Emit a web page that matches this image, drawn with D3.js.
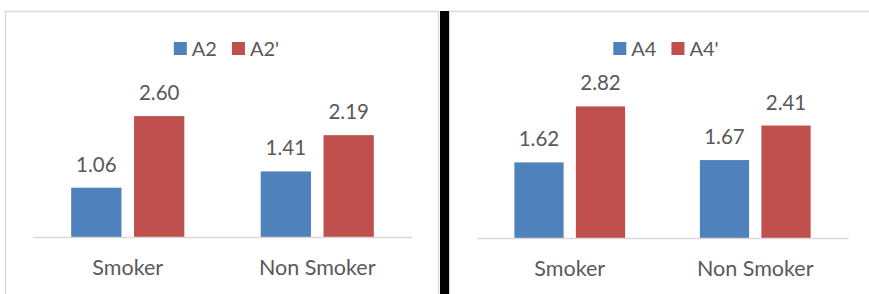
<!DOCTYPE html>
<html>
<head>
<meta charset="utf-8">
<script src="https://cdn.jsdelivr.net/npm/d3@7"></script>
<style>
  body { margin: 0; background: #fff; }
  text { font-family: Lato, "Open Sans", sans-serif; fill: #595959; }
</style>
</head>
<body>
<script>
// Data
const categories = ['Smoker', 'Non Smoker'];
const leftSeries = ['A2', "A2'"];
const leftValues = [[1.06, 2.60], [1.41, 2.19]];
const rightSeries = ['A4', "A4'"];
const rightValues = [[1.62, 2.82], [1.67, 2.41]];

const colors = ['#4F81BD', '#C0504D'];

const W = 869, H = 294;

const svg = d3.select('body').append('svg')
    .attr('width', W)
    .attr('height', H);

// Panel frames
svg.append('rect')
    .attr('x', 5.5).attr('y', 11.5)
    .attr('width', 433).attr('height', 300)
    .attr('fill', 'none')
    .attr('stroke', '#D9D9D9')
    .attr('stroke-width', 1.5);

svg.append('rect')
    .attr('x', 449.5).attr('y', 11.5)
    .attr('width', 440).attr('height', 300)
    .attr('fill', 'none')
    .attr('stroke', '#D9D9D9')
    .attr('stroke-width', 1.5);

// thick divider
svg.append('rect')
    .attr('x', 440).attr('y', 11)
    .attr('width', 9).attr('height', H - 11)
    .attr('fill', '#000');

function drawPanel(opts) {
    const { series, values, x0Range, baseline, top, legendCenter } = opts;
    const g = svg.append('g');

    const y = d3.scaleLinear().domain([0, 3]).range([baseline, top]);

    const x0 = d3.scaleBand()
        .domain(categories)
        .range(x0Range)
        .paddingInner(0.403)
        .paddingOuter(0.2015);

    const x1 = d3.scaleBand()
        .domain(series)
        .range([0, x0.bandwidth()])
        .paddingInner(0.2);

    const groups = g.selectAll('g.group')
        .data(categories)
        .enter()
        .append('g')
        .attr('class', 'group')
        .attr('transform', d => `translate(${x0(d)},0)`);

    groups.selectAll('rect')
        .data((d, i) => series.map((s, j) => ({ s, j, v: values[i][j] })))
        .enter()
        .append('rect')
        .attr('x', d => x1(d.s))
        .attr('y', d => y(d.v))
        .attr('width', x1.bandwidth())
        .attr('height', d => baseline - y(d.v))
        .attr('fill', d => colors[d.j]);

    groups.selectAll('text.val')
        .data((d, i) => series.map((s, j) => ({ s, j, v: values[i][j] })))
        .enter()
        .append('text')
        .attr('class', 'val')
        .attr('x', d => x1(d.s) + x1.bandwidth() / 2)
        .attr('y', d => y(d.v) - 16)
        .attr('text-anchor', 'middle')
        .style('font-size', '20.5px')
        .text(d => d.v.toFixed(2));

    // category axis
    const axis = g.append('g')
        .attr('transform', `translate(0,${baseline})`)
        .call(d3.axisBottom(x0).tickSize(0).tickPadding(0));
    axis.select('.domain')
        .attr('stroke', '#D9D9D9')
        .attr('stroke-width', 1.5);
    axis.selectAll('text')
        .attr('dy', 0)
        .attr('y', 38)
        .style('font-size', '21.5px')
        .style('font-family', 'Lato, sans-serif')
        .attr('fill', '#595959');

    // legend
    const legend = g.append('g');
    let cx = 0;
    series.forEach((s, j) => {
        const item = legend.append('g').attr('transform', `translate(${cx},0)`);
        item.append('rect')
            .attr('x', 0).attr('y', 42)
            .attr('width', 13).attr('height', 13)
            .attr('fill', colors[j]);
        const t = item.append('text')
            .attr('x', 18).attr('y', 55.5)
            .style('font-size', '20px')
            .text(s);
        cx += 18 + t.node().getComputedTextLength() + 15;
    });
    const lw = cx - 15;
    legend.attr('transform', `translate(${legendCenter - lw / 2},0)`);
}

drawPanel({
    series: leftSeries,
    values: leftValues,
    x0Range: [33, 412],
    baseline: 237,
    top: 97.5,
    legendCenter: 226.5
});

drawPanel({
    series: rightSeries,
    values: rightValues,
    x0Range: [477, 848],
    baseline: 238,
    top: 98,
    legendCenter: 666
});
</script>
</body>
</html>
